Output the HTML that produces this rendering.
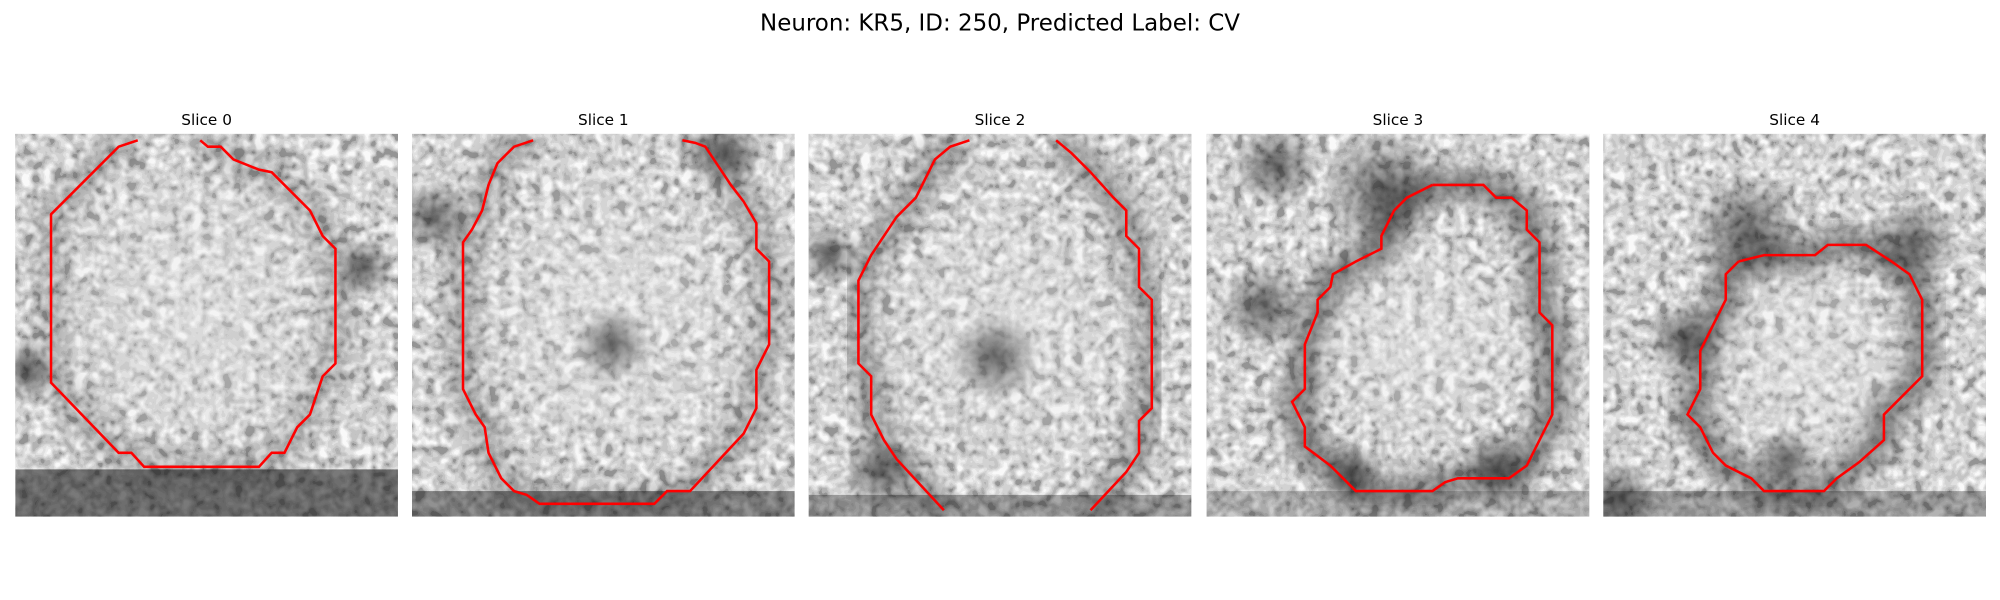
<!DOCTYPE html>
<html><head><meta charset="utf-8"><style>
html,body{margin:0;padding:0;background:#fff;width:2000px;height:600px;overflow:hidden;}
svg{display:block;font-family:"DejaVu Sans","Liberation Sans",sans-serif;}
</style></head><body>
<svg width="2000" height="600" viewBox="0 0 1568 470.4">
<defs>
<filter id="noise" x="0" y="0" width="100%" height="100%">
<feTurbulence type="fractalNoise" baseFrequency="0.12" numOctaves="2" seed="11"/>
<feColorMatrix type="matrix" values="0.33 0.33 0.33 0 0  0.33 0.33 0.33 0 0  0.33 0.33 0.33 0 0  0 0 0 0 1"/>
<feComponentTransfer><feFuncR type="linear" slope="3" intercept="-1"/><feFuncG type="linear" slope="3" intercept="-1"/><feFuncB type="linear" slope="3" intercept="-1"/></feComponentTransfer>
<feComponentTransfer><feFuncR type="discrete" tableValues="0.3 0.45 0.55 0.65 0.75 0.85 0.95"/><feFuncG type="discrete" tableValues="0.3 0.45 0.55 0.65 0.75 0.85 0.95"/><feFuncB type="discrete" tableValues="0.3 0.45 0.55 0.65 0.75 0.85 0.95"/></feComponentTransfer>
</filter>
<filter id="blur"><feGaussianBlur stdDeviation="8"/></filter>
<radialGradient id="light"><stop offset="0" stop-color="#eeeeee" stop-opacity="0.4"/><stop offset="0.7" stop-color="#dddddd" stop-opacity="0.2"/><stop offset="1" stop-color="#ddd" stop-opacity="0"/></radialGradient>
<radialGradient id="dark"><stop offset="0" stop-color="#111" stop-opacity="0.6"/><stop offset="1" stop-color="#111" stop-opacity="0"/></radialGradient>
</defs>
<text x="784" y="24" text-anchor="middle" font-size="18" fill="#000">Neuron: KR5, ID: 250, Predicted Label: CV</text>
<g id="panels"></g>
</svg>
<script>
const sliceLabels=["Slice 0","Slice 1","Slice 2","Slice 3","Slice 4"];
const panelX=[12,323,634,946,1257];
const lightCenters=[[150,240,120],[480,250,120],[790,260,110],[1115,265,95],[1420,285,90]];
const ringOpacity=[0.2,0.25,0.3,0.45,0.45];
const darkBlobs=[
 [[285,210,25],[20,290,25]],
 [[340,170,30],[570,120,30],[480,270,30]],
 [[780,280,35],[650,200,25],[690,370,30]],
 [[1085,150,50],[990,240,35],[1175,365,30],[1060,370,25],[1000,130,35]],
 [[1370,180,45],[1320,265,30],[1270,390,30],[1500,190,35],[1400,360,25]]
];
const bottomBands=[[368,37,0.55],[385,20,0.45],[388,17,0.35],[385,20,0.2],[385,20,0.3]];
const contours=[
 [[108,110],[93,115],[40,168],[40,300],[93,355],[103,355],[113,366],[203,366],[213,355],[223,355],[233,335],[243,325],[253,295],[263,285],[263,195],[253,185],[243,165],[213,135],[203,133],[183,125],[173,115],[163,115],[157,110]],
 [[418,110],[403,115],[390,128],[383,145],[378,165],[370,180],[363,190],[363,305],[373,325],[380,335],[383,355],[393,375],[403,385],[413,388],[423,395],[513,395],[523,385],[541,385],[583,340],[593,320],[593,290],[603,270],[603,205],[593,195],[593,175],[583,158],[573,145],[563,130],[553,115],[545,112],[535,110]],
 [[760,110],[745,115],[733,125],[718,155],[703,170],[693,185],[683,200],[673,220],[673,285],[683,295],[683,325],[693,345],[703,360],[740,400]],
 [[1123,145],[1163,145],[1173,155],[1185,155],[1197,165],[1197,180],[1207,190],[1207,245],[1217,255],[1217,325],[1207,345],[1197,365],[1183,375],[1143,375],[1133,378],[1123,385],[1063,385],[1043,365],[1023,350],[1023,335],[1013,315],[1023,305],[1023,270],[1033,245],[1033,235],[1043,225],[1045,215],[1063,205],[1073,200],[1083,195],[1083,185],[1093,165],[1103,155],[1113,150],[1123,145]],
 [[1363,205],[1383,200],[1423,200],[1433,192],[1463,192],[1483,205],[1497,215],[1507,235],[1507,295],[1497,305],[1477,325],[1477,345],[1458,362],[1440,375],[1430,385],[1383,385],[1373,375],[1353,365],[1343,355],[1333,335],[1323,325],[1333,305],[1333,275],[1343,255],[1353,235],[1353,215],[1363,205]]
];
const extraLine=[null,null,[[828,110],[840,120],[855,135],[873,155],[883,165],[883,185],[893,195],[893,225],[903,235],[903,320],[893,330],[893,355],[883,370],[855,400]],null,null];
const NS="http://www.w3.org/2000/svg";
const root=document.getElementById('panels');
function mk(tag,attrs,parent){const e=document.createElementNS(NS,tag);for(const k in attrs)e.setAttribute(k,attrs[k]);parent.appendChild(e);return e;}
function pts(a){return a.map(q=>q.join(',')).join(' ');}
sliceLabels.forEach((lab,i)=>{
 const x0=panelX[i],y0=105,W=300,H=300;
 const g=mk('g',{},root);
 
 
 const cid='clip'+i;
 const cp=mk('clipPath',{id:cid},g);mk('rect',{x:x0,y:y0,width:W,height:H},cp);
 const img=mk('g',{'clip-path':'url(#'+cid+')'},g);
 
 
 mk('rect',{x:x0,y:y0,width:W,height:H,fill:'#8c8c8c'},img);
 mk('rect',{x:x0,y:y0,width:W,height:H,filter:'url(#noise)',opacity:'1'},img);
 const lc=lightCenters[i];
 mk('circle',{cx:lc[0],cy:lc[1],r:lc[2],fill:'url(#light)'},img);
 mk('polyline',{points:pts(contours[i]),fill:'none',stroke:'#111','stroke-width':'22',opacity:ringOpacity[i],filter:'url(#blur)'},img);
 if(extraLine[i]) mk('polyline',{points:pts(extraLine[i]),fill:'none',stroke:'#111','stroke-width':'22',opacity:ringOpacity[i],filter:'url(#blur)'},img);
 darkBlobs[i].forEach(b=>mk('circle',{cx:b[0],cy:b[1],r:b[2],fill:'url(#dark)'},img));
 const bb=bottomBands[i];
 if(bb[1]>0) mk('rect',{x:x0,y:bb[0],width:W,height:bb[1],fill:'#111',opacity:bb[2]},img);
 const t=mk('text',{x:x0+W/2,y:98,'text-anchor':'middle','font-size':'12',fill:'#000'},g);
 t.textContent=lab;
 
 
 const p=mk('polyline',{points:pts(contours[i]),fill:'none',stroke:'#ff0000','stroke-width':'2','clip-path':'url(#'+cid+')'},g);
 
 
 if(extraLine[i]){
  const p2=mk('polyline',{points:pts(extraLine[i]),fill:'none',stroke:'#ff0000','stroke-width':'2','clip-path':'url(#'+cid+')'},g);
  
  
 }
});
</script>
</body></html>
